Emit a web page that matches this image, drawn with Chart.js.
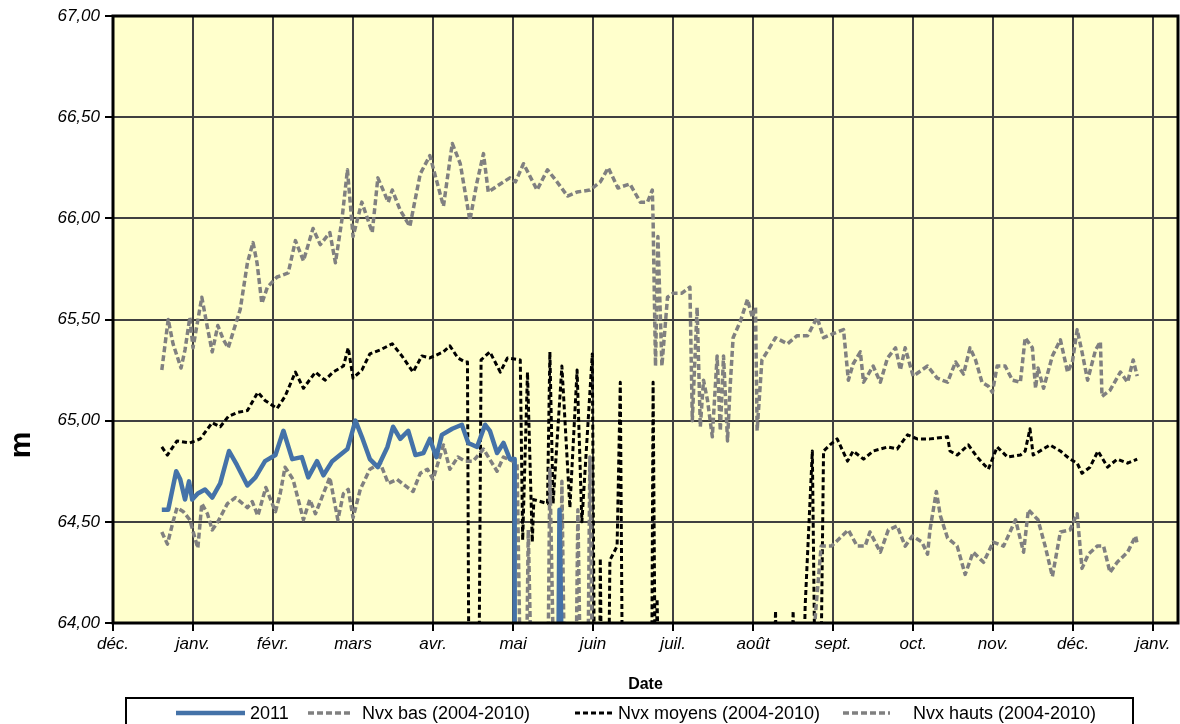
<!DOCTYPE html>
<html>
<head>
<meta charset="utf-8">
<script src="https://cdn.jsdelivr.net/npm/chart.js@4/dist/chart.umd.min.js"></script>
<style>
  html, body { margin: 0; padding: 0; background: #fff; }
  #wrap { width: 1180px; height: 724px; position: relative; }
</style>
</head>
<body>
<div id="wrap"><canvas id="chart" width="1180" height="724"></canvas></div>
<script>
// x = position in months from 1 déc. (month ticks are evenly spaced in the source)
const monthLabels = ['déc.', 'janv.', 'févr.', 'mars', 'avr.', 'mai', 'juin', 'juil.', 'août', 'sept.', 'oct.', 'nov.', 'déc.', 'janv.'];
const yTicks = [64, 64.5, 65, 65.5, 66, 66.5, 67];

// 63.5 = below the axis (series drops out of the visible range)
const niv2011 = [
  [0.61,64.56],[0.69,64.56],[0.79,64.75],[0.84,64.71],[0.90,64.61],[0.95,64.70],[0.99,64.61],[1.06,64.64],
  [1.15,64.66],[1.24,64.62],[1.34,64.69],[1.45,64.85],[1.55,64.78],[1.68,64.68],[1.78,64.72],[1.90,64.80],
  [2.03,64.83],[2.13,64.95],[2.24,64.81],[2.36,64.82],[2.44,64.72],[2.55,64.80],[2.63,64.73],[2.74,64.80],
  [2.93,64.86],[3.03,65.00],[3.11,64.92],[3.21,64.81],[3.31,64.77],[3.43,64.87],[3.50,64.97],[3.59,64.91],
  [3.69,64.95],[3.78,64.83],[3.88,64.84],[3.96,64.91],[4.04,64.82],[4.11,64.93],[4.24,64.96],[4.36,64.98],
  [4.44,64.89],[4.55,64.87],[4.65,64.98],[4.71,64.95],[4.80,64.84],[4.88,64.89],[4.96,64.81],[5.02,64.81],
  [5.02,63.5],[5.56,63.5],[5.58,64.56],[5.62,63.5]
];

const nvxBas = [
  [0.61,64.45],[0.68,64.39],[0.75,64.50],[0.80,64.57],[0.88,64.55],[0.96,64.51],[1.06,64.37],[1.11,64.59],
  [1.18,64.54],[1.24,64.46],[1.31,64.50],[1.43,64.59],[1.53,64.62],[1.68,64.57],[1.74,64.60],[1.81,64.53],
  [1.91,64.67],[2.03,64.55],[2.09,64.64],[2.15,64.77],[2.25,64.71],[2.38,64.51],[2.46,64.61],[2.53,64.54],
  [2.61,64.62],[2.71,64.72],[2.81,64.51],[2.88,64.64],[2.94,64.66],[3.00,64.52],[3.09,64.66],[3.21,64.76],
  [3.34,64.79],[3.44,64.69],[3.55,64.71],[3.68,64.67],[3.75,64.65],[3.84,64.74],[3.93,64.76],[4.00,64.71],
  [4.13,64.88],[4.21,64.76],[4.31,64.82],[4.40,64.80],[4.50,64.80],[4.63,64.86],[4.80,64.75],[4.88,64.82],
  [5.05,64.79],[5.10,63.5],[5.16,63.5],[5.19,64.46],[5.24,63.5],[5.43,63.5],[5.46,64.76],[5.52,63.5],
  [5.58,63.5],[5.61,64.70],[5.65,63.5],[5.78,63.5],[5.81,64.56],[5.85,63.5],[5.93,63.5],[5.96,64.82],
  [6.00,63.5],[8.70,63.5],[8.78,64.05],[8.85,64.38],[8.98,64.38],[9.19,64.46],[9.30,64.38],[9.40,64.38],
  [9.46,64.45],[9.59,64.35],[9.69,64.46],[9.80,64.48],[9.90,64.38],[9.99,64.43],[10.11,64.40],[10.18,64.34],
  [10.21,64.46],[10.29,64.65],[10.34,64.53],[10.43,64.42],[10.55,64.38],[10.65,64.24],[10.75,64.35],[10.88,64.30],
  [11.00,64.40],[11.13,64.38],[11.28,64.51],[11.38,64.35],[11.44,64.56],[11.56,64.51],[11.65,64.38],[11.74,64.23],
  [11.84,64.45],[11.96,64.46],[12.05,64.54],[12.11,64.27],[12.19,64.34],[12.30,64.38],[12.38,64.38],[12.46,64.25],
  [12.55,64.30],[12.68,64.35],[12.78,64.43],[12.80,64.39]
];

const nvxMoyens = [
  [0.61,64.87],[0.68,64.83],[0.80,64.90],[0.96,64.89],[1.09,64.91],[1.24,64.99],[1.34,64.97],[1.44,65.02],
  [1.55,65.04],[1.68,65.05],[1.81,65.14],[1.90,65.10],[2.05,65.06],[2.15,65.12],[2.28,65.24],[2.38,65.16],
  [2.53,65.24],[2.65,65.20],[2.75,65.24],[2.88,65.27],[2.94,65.36],[3.00,65.21],[3.11,65.25],[3.21,65.33],
  [3.34,65.35],[3.49,65.38],[3.61,65.32],[3.75,65.24],[3.86,65.32],[3.96,65.31],[4.13,65.34],[4.21,65.37],
  [4.31,65.31],[4.40,65.29],[4.43,65.29],[4.45,63.5],[4.57,63.5],[4.60,65.30],[4.71,65.34],[4.84,65.24],
  [4.93,65.31],[5.09,65.30],[5.12,64.41],[5.18,65.24],[5.24,64.40],[5.26,64.61],[5.43,64.59],[5.46,65.34],
  [5.50,64.59],[5.61,65.27],[5.71,64.57],[5.80,65.25],[5.86,64.50],[5.99,65.33],[6.02,63.5],[6.08,63.5],
  [6.09,64.32],[6.11,63.5],[6.19,63.5],[6.21,64.31],[6.30,64.38],[6.34,65.19],[6.37,63.5],[6.73,63.5],
  [6.75,65.19],[6.78,63.5],[6.80,64.12],[6.83,63.5],[8.25,63.5],[8.28,64.06],[8.31,63.5],[8.47,63.5],
  [8.50,64.06],[8.53,63.5],[8.62,63.5],[8.65,64.08],[8.74,64.85],[8.78,63.5],[8.84,63.5],[8.88,64.85],
  [8.96,64.88],[9.05,64.91],[9.18,64.80],[9.25,64.85],[9.38,64.81],[9.50,64.85],[9.68,64.87],[9.80,64.86],
  [9.93,64.93],[10.05,64.91],[10.21,64.91],[10.43,64.92],[10.46,64.85],[10.55,64.83],[10.69,64.88],[10.80,64.82],
  [10.94,64.76],[11.05,64.87],[11.18,64.82],[11.34,64.83],[11.40,64.85],[11.46,64.96],[11.50,64.83],[11.71,64.88],
  [11.84,64.85],[11.96,64.81],[12.05,64.79],[12.11,64.74],[12.21,64.77],[12.31,64.85],[12.43,64.77],[12.55,64.81],
  [12.68,64.79],[12.80,64.81]
];

const nvxHauts = [
  [0.61,65.25],[0.69,65.50],[0.75,65.38],[0.85,65.26],[0.90,65.35],[0.96,65.51],[1.00,65.36],[1.11,65.61],
  [1.18,65.46],[1.24,65.34],[1.31,65.47],[1.38,65.40],[1.44,65.36],[1.59,65.55],[1.68,65.78],[1.75,65.88],
  [1.80,65.78],[1.86,65.58],[1.93,65.66],[2.05,65.71],[2.19,65.73],[2.28,65.89],[2.38,65.79],[2.50,65.95],
  [2.59,65.87],[2.71,65.93],[2.78,65.78],[2.86,65.99],[2.93,66.24],[3.00,65.91],[3.11,66.08],[3.24,65.93],
  [3.31,66.20],[3.44,66.08],[3.49,66.14],[3.59,66.04],[3.71,65.96],[3.84,66.22],[3.96,66.31],[4.13,66.06],
  [4.24,66.37],[4.34,66.27],[4.46,65.99],[4.55,66.18],[4.63,66.32],[4.69,66.13],[4.84,66.17],[4.96,66.20],
  [5.03,66.18],[5.13,66.27],[5.30,66.14],[5.43,66.24],[5.55,66.18],[5.68,66.11],[5.80,66.13],[5.96,66.14],
  [6.09,66.18],[6.19,66.25],[6.31,66.15],[6.46,66.17],[6.59,66.08],[6.68,66.08],[6.74,66.14],[6.75,65.99],
  [6.78,65.27],[6.81,65.91],[6.86,65.27],[6.93,65.61],[7.00,65.63],[7.11,65.63],[7.21,65.66],[7.24,65.00],
  [7.30,65.56],[7.34,64.97],[7.38,65.20],[7.43,65.10],[7.49,64.92],[7.55,65.32],[7.59,64.95],[7.63,65.32],
  [7.68,64.90],[7.71,65.15],[7.75,65.41],[7.84,65.49],[7.93,65.60],[7.99,65.51],[8.03,65.56],[8.05,64.95],
  [8.11,65.30],[8.19,65.35],[8.28,65.41],[8.43,65.38],[8.55,65.42],[8.68,65.42],[8.80,65.51],[8.88,65.41],
  [9.00,65.43],[9.13,65.45],[9.19,65.20],[9.25,65.28],[9.34,65.34],[9.38,65.19],[9.50,65.27],[9.59,65.19],
  [9.68,65.31],[9.78,65.36],[9.84,65.25],[9.90,65.36],[10.00,65.22],[10.18,65.27],[10.30,65.21],[10.43,65.19],
  [10.53,65.29],[10.63,65.23],[10.71,65.36],[10.78,65.30],[10.86,65.19],[10.94,65.17],[10.99,65.14],[11.05,65.27],
  [11.15,65.27],[11.24,65.20],[11.34,65.19],[11.40,65.41],[11.49,65.36],[11.53,65.16],[11.56,65.26],[11.63,65.16],
  [11.74,65.32],[11.84,65.40],[11.93,65.24],[11.99,65.29],[12.05,65.45],[12.11,65.34],[12.18,65.20],[12.28,65.35],
  [12.34,65.39],[12.36,65.12],[12.46,65.15],[12.59,65.24],[12.68,65.19],[12.75,65.30],[12.80,65.22]
];

const seriesNames = ['2011', 'Nvx bas (2004-2010)', 'Nvx moyens (2004-2010)', 'Nvx hauts (2004-2010)'];
const seriesColors = ['#4472A8', '#808080', '#000000', '#808080'];

const FONT = '"Liberation Sans", Arial, sans-serif';

function toXY(arr) {
    return arr.map(p => ({ x: p[0], y: p[1] }))
}

function fmt(v) {
    return v.toFixed(2).replace('.', ',')
}

// yellow plot area, frame, y title and legend box
const decorPlugin = {
    id: 'decor',
    beforeDraw(chart) {
        const { ctx, chartArea: a } = chart;
        ctx.save();
        ctx.fillStyle = '#FFFFCC';
        ctx.fillRect(a.left, a.top, a.right - a.left, a.bottom - a.top);
        ctx.restore();
    },
    afterDraw(chart) {
        const { ctx, chartArea: a } = chart;
        ctx.save();
        ctx.strokeStyle = '#000';
        ctx.lineWidth = 3;
        ctx.strokeRect(a.left, a.top, a.right - a.left, a.bottom - a.top);

        // y axis title (rendered as a bold blob in the source)
        ctx.translate(30, 445);
        ctx.rotate(-Math.PI / 2);
        ctx.fillStyle = '#000';
        ctx.font = 'bold 30px ' + FONT;
        ctx.textAlign = 'center';
        ctx.fillText('m', 0, 0);
        ctx.restore();

        // legend
        ctx.save();
        ctx.strokeStyle = '#000';
        ctx.lineWidth = 2;
        ctx.strokeRect(126, 698, 1007, 60);
        const items = [
            { x1: 176, x2: 245, tx: 250, w: 4.5, dash: [] },
            { x1: 308, x2: 350, tx: 362, w: 3.5, dash: [6, 3] },
            { x1: 575, x2: 614, tx: 618, w: 3, dash: [5, 3] },
            { x1: 843, x2: 890, tx: 913, w: 3.5, dash: [6, 3] }
        ];
        ctx.font = '18px ' + FONT;
        ctx.textBaseline = 'middle';
        items.forEach((it, i) => {
            ctx.beginPath();
            ctx.setLineDash(it.dash);
            ctx.strokeStyle = seriesColors[i];
            ctx.lineWidth = it.w;
            ctx.moveTo(it.x1, 713);
            ctx.lineTo(it.x2, 713);
            ctx.stroke();
            ctx.setLineDash([]);
            ctx.fillStyle = '#000';
            ctx.fillText(seriesNames[i], it.tx, 714);
        });
        ctx.restore();
    }
};

const dataSeries = [niv2011, nvxBas, nvxMoyens, nvxHauts];
const seriesWidths = [4.5, 3.5, 3, 3.5];
const seriesDash = [[], [6, 3], [5, 3], [6, 3]];

new Chart(document.getElementById('chart'), {
    type: 'line',
    data: {
        datasets: dataSeries.map((s, i) => ({
            label: seriesNames[i],
            data: toXY(s),
            borderColor: seriesColors[i],
            borderWidth: seriesWidths[i],
            borderDash: seriesDash[i],
            borderJoinStyle: 'round',
            pointRadius: 0,
            tension: 0,
            fill: false
        }))
    },
    options: {
        responsive: false,
        animation: false,
        layout: { padding: { top: 16, right: 2, left: 0, bottom: 0 } },
        plugins: {
            legend: { display: false },
            tooltip: { enabled: false }
        },
        scales: {
            x: {
                type: 'linear',
                min: 0,
                max: 13.31,
                afterFit: s => { s.height = 101 },
                afterBuildTicks: s => {
                    s.ticks = monthLabels.map((l, i) => ({ value: i }))
                },
                grid: { color: '#404040', lineWidth: 2, tickColor: '#000', tickLength: 8, tickWidth: 2 },
                border: { display: false },
                ticks: {
                    autoSkip: false,
                    maxRotation: 0,
                    padding: 3,
                    color: '#000',
                    font: { family: FONT, size: 17, style: 'italic' },
                    callback: v => monthLabels[v]
                },
                title: {
                    display: true,
                    text: 'Date',
                    color: '#000',
                    font: { family: FONT, size: 16, weight: 'bold' },
                    padding: { top: 0, bottom: 30 }
                }
            },
            y: {
                min: 64,
                max: 67,
                afterFit: s => { s.width = 113 },
                afterBuildTicks: s => {
                    s.ticks = yTicks.map(v => ({ value: v }))
                },
                grid: { color: '#404040', lineWidth: 2, tickColor: '#000', tickLength: 8, tickWidth: 2 },
                border: { display: false },
                ticks: {
                    padding: 5,
                    color: '#000',
                    font: { family: FONT, size: 17, style: 'italic' },
                    callback: v => fmt(v)
                }
            }
        }
    },
    plugins: [decorPlugin]
});
</script>
</body>
</html>
